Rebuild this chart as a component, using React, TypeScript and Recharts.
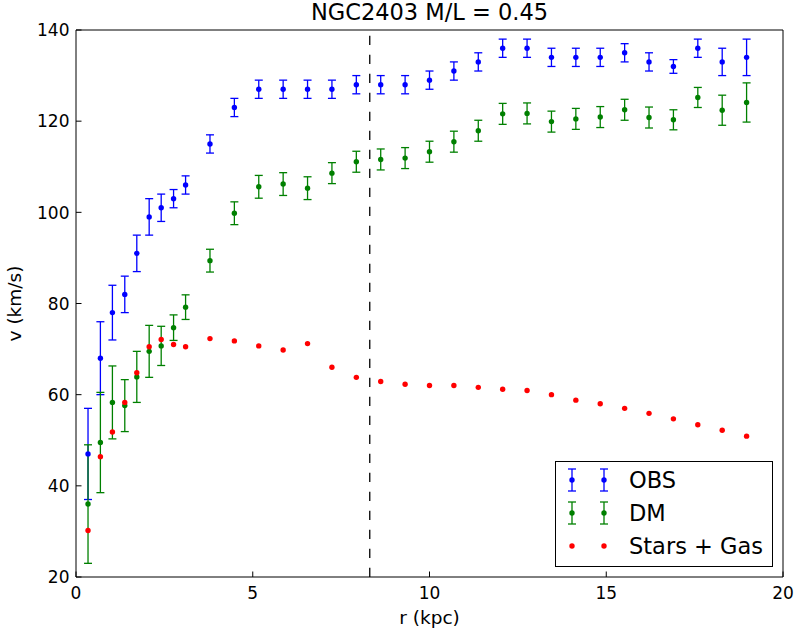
import React from 'react';
import {
  ScatterChart,
  Scatter,
  XAxis,
  YAxis,
  ErrorBar,
  ReferenceLine,
  Legend,
  Label,
} from 'recharts';

// radius (kpc) of every sample
const radius = [
  0.34, 0.69, 1.03, 1.38, 1.72, 2.07, 2.41, 2.76, 3.1, 3.79, 4.48, 5.17, 5.86, 6.55, 7.24, 7.93,
  8.62, 9.31, 10.0, 10.69, 11.38, 12.07, 12.76, 13.45, 14.14, 14.83, 15.52, 16.21, 16.9, 17.59,
  18.28, 18.97,
];

// observed rotation curve
const obsV = [
  47, 68, 78, 82, 91, 99, 101, 103, 106, 115, 123, 127, 127, 127, 127, 128, 128, 128, 129, 131,
  133, 136, 136, 134, 134, 134, 135, 133, 132, 136, 133, 134,
];
const obsErr = [
  10, 8, 6, 4, 4, 4, 3, 2, 2, 2, 2, 2, 2, 2, 2, 2, 2, 2, 2, 2, 2, 2, 2, 2, 2, 2, 2, 2, 1.5, 2, 3,
  4,
];

// dark matter contribution
const dmV = [
  36.0, 49.5, 58.3, 57.6, 63.9, 69.5, 70.7, 74.7, 79.2, 89.4, 99.8, 105.6, 106.2, 105.3, 108.6,
  111.1, 111.6, 111.9, 113.3, 115.5, 117.9, 121.6, 121.7, 119.9, 120.5, 120.9, 122.5, 120.8, 120.3,
  125.2, 122.4, 124.1,
];
const dmErr = [
  13, 11, 8, 5.7, 5.6, 5.7, 4.3, 2.8, 2.7, 2.5, 2.5, 2.5, 2.5, 2.5, 2.3, 2.3, 2.3, 2.3, 2.3, 2.3,
  2.3, 2.3, 2.3, 2.3, 2.3, 2.3, 2.3, 2.3, 2.2, 2.2, 3.3, 4.3,
];

// baryonic (stars + gas) contribution
const gasV = [
  30.2, 46.4, 51.8, 58.3, 64.8, 70.5, 72.1, 71.0, 70.5, 72.3, 71.8, 70.7, 69.8, 71.2, 66.0, 63.8,
  62.9, 62.3, 62.0, 62.0, 61.6, 61.2, 60.9, 60.0, 58.8, 58.0, 57.0, 55.9, 54.7, 53.4, 52.2, 50.9,
];

const xTicks = [0, 5, 10, 15, 20];
const yTicks = [20, 40, 60, 80, 100, 120, 140];
const rCut = 8.31;

const FONT = 'DejaVu Sans';
const BLUE = '#0000ff';
const GREEN = '#008000';
const RED = '#ff0000';
const TICK = 5.5;

const obsData = radius.map((r, i) => ({ r, v: obsV[i], err: obsErr[i] }));
const dmData = radius.map((r, i) => ({ r, v: dmV[i], err: dmErr[i] }));
const gasData = radius.map((r, i) => ({ r, v: gasV[i] }));

const dot = (color: string) => (props: any) =>
  <circle cx={props.cx} cy={props.cy} r={2.7} fill={color} />;

const BottomTick = ({ x, y, payload }: any) => (
  <g>
    <line x1={x} y1={y} x2={x} y2={y - TICK} stroke="#000" />
    <text x={x} y={y + 22} textAnchor="middle" fontSize={17} fontFamily={FONT} fill="#000">
      {payload.value}
    </text>
  </g>
);
const TopTick = ({ x, y }: any) => <line x1={x} y1={y} x2={x} y2={y + TICK} stroke="#000" />;
const LeftTick = ({ x, y, payload }: any) => (
  <g>
    <line x1={x} y1={y} x2={x + TICK} y2={y} stroke="#000" />
    <text x={x - 6.5} y={y + 6.2} textAnchor="end" fontSize={17} fontFamily={FONT} fill="#000">
      {payload.value}
    </text>
  </g>
);
const RightTick = ({ x, y }: any) => <line x1={x} y1={y} x2={x - TICK} y2={y} stroke="#000" />;

const YTitle = ({ viewBox }: any) => {
  const cx = viewBox.x - 9.5;
  const cy = viewBox.y + viewBox.height / 2;
  return (
    <text
      x={cx}
      y={cy}
      transform={`rotate(-90, ${cx}, ${cy})`}
      textAnchor="middle"
      fontSize={18.5}
      fontFamily={FONT}
      fill="#000"
    >
      v (km/s)
    </text>
  );
};

const legendRows = [
  { label: 'OBS', color: BLUE, bars: true },
  { label: 'DM', color: GREEN, bars: true },
  { label: 'Stars + Gas', color: RED, bars: false },
];

const LegendBox = () => (
  <div
    style={{
      width: 218,
      height: 106,
      border: '1.3px solid #000',
      background: '#fff',
      boxSizing: 'border-box',
    }}
  >
    <svg width={216} height={104}>
      {legendRows.map((row, i) => {
        const cy = 18 + i * 33;
        return (
          <g key={row.label}>
            {[16, 48].map((cx) => (
              <g key={cx}>
                {row.bars && (
                  <g stroke={row.color} strokeWidth={1.3}>
                    <line x1={cx} y1={cy - 11} x2={cx} y2={cy + 11} />
                    <line x1={cx - 4} y1={cy - 11} x2={cx + 4} y2={cy - 11} />
                    <line x1={cx - 4} y1={cy + 11} x2={cx + 4} y2={cy + 11} />
                  </g>
                )}
                <circle cx={cx} cy={cy} r={2.7} fill={row.color} />
              </g>
            ))}
            <text x={73} y={cy + 8} fontSize={22.5} fontFamily={FONT} fill="#000">
              {row.label}
            </text>
          </g>
        );
      })}
    </svg>
  </div>
);

export default function App() {
  return (
    <div style={{ position: 'absolute', left: 0, top: 0, width: 798, height: 632, background: '#fff' }}>
      <ScatterChart width={798} height={632} margin={{ top: 25, right: 10, bottom: 25, left: 30 }}>
        <XAxis
          xAxisId="b"
          dataKey="r"
          type="number"
          domain={[0, 20]}
          ticks={xTicks}
          orientation="bottom"
          height={30}
          tickSize={0}
          tickMargin={0}
          tickLine={false}
          axisLine={{ stroke: '#000' }}
          tick={<BottomTick />}
        >
          <Label
            value="r (kpc)"
            position="bottom"
            offset={4}
            fontSize={18.5}
            fontFamily={FONT}
            fill="#000"
          />
        </XAxis>
        <XAxis
          xAxisId="t"
          type="number"
          domain={[0, 20]}
          ticks={xTicks}
          orientation="top"
          height={5}
          tickSize={0}
          tickMargin={0}
          tickLine={false}
          axisLine={{ stroke: '#000' }}
          tick={<TopTick />}
        >
          <Label
            value="NGC2403 M/L = 0.45"
            position="top"
            offset={5}
            fontSize={22.5}
            fontFamily={FONT}
            fill="#000"
          />
        </XAxis>
        <YAxis
          yAxisId="l"
          dataKey="v"
          type="number"
          domain={[20, 140]}
          ticks={yTicks}
          orientation="left"
          width={46}
          tickSize={0}
          tickMargin={0}
          tickLine={false}
          axisLine={{ stroke: '#000' }}
          tick={<LeftTick />}
        >
          <Label content={<YTitle />} />
        </YAxis>
        <YAxis
          yAxisId="r"
          type="number"
          domain={[20, 140]}
          ticks={yTicks}
          orientation="right"
          width={5}
          tickSize={0}
          tickMargin={0}
          tickLine={false}
          axisLine={{ stroke: '#000' }}
          tick={<RightTick />}
        />
        <ReferenceLine
          xAxisId="b"
          yAxisId="l"
          x={rCut}
          stroke="#000"
          strokeWidth={1.3}
          strokeDasharray="9.3 9.7"
        />
        <Scatter
          name="OBS"
          data={obsData}
          xAxisId="b"
          yAxisId="l"
          shape={dot(BLUE)}
          isAnimationActive={false}
        >
          <ErrorBar dataKey="err" direction="y" width={4} stroke={BLUE} strokeWidth={1.3} isAnimationActive={false} />
        </Scatter>
        <Scatter
          name="DM"
          data={dmData}
          xAxisId="b"
          yAxisId="l"
          shape={dot(GREEN)}
          isAnimationActive={false}
        >
          <ErrorBar dataKey="err" direction="y" width={4} stroke={GREEN} strokeWidth={1.3} isAnimationActive={false} />
        </Scatter>
        <Scatter
          name="Stars + Gas"
          data={gasData}
          xAxisId="b"
          yAxisId="l"
          shape={dot(RED)}
          isAnimationActive={false}
        />
        <Legend
          layout="vertical"
          align="center"
          verticalAlign="middle"
          content={<LegendBox />}
          wrapperStyle={{ left: 555, top: 461, width: 218, height: 106 }}
        />
      </ScatterChart>
    </div>
  );
}
